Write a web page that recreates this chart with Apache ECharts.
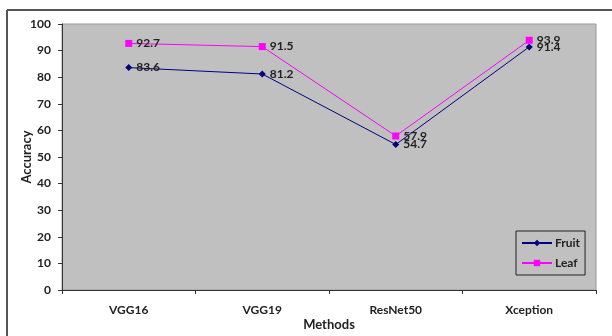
<!DOCTYPE html>
<html>
<head>
<meta charset="utf-8">
<script src="https://cdn.jsdelivr.net/npm/echarts@6/dist/echarts.min.js"></script>
<style>
  html, body { margin: 0; padding: 0; background: #ffffff; }
  #chart { width: 612px; height: 336px; }
</style>
</head>
<body>
<div id="chart"></div>
<script>
// Accuracy of each backbone network for fruit and leaf images
const methods = ['VGG16', 'VGG19', 'ResNet50', 'Xception'];
const fruitAcc = [83.6, 81.2, 54.7, 91.4];
const leafAcc = [92.7, 91.5, 57.9, 93.9];
const yTicks = { min: 0, max: 100, interval: 10 };

const labelFont = 'Lato, "Open Sans", sans-serif';

const chart = echarts.init(document.getElementById('chart'), null, { renderer: 'canvas' });

function seriesOf(name, data, color, symbol, size) {
  return {
    name: name,
    type: 'line',
    data: data,
    symbol: symbol,
    symbolSize: size,
    showAllSymbol: true,
    lineStyle: { color: color, width: 1 },
    itemStyle: { color: color },
    label: {
      show: true,
      position: 'right',
      distance: 4,
      color: '#222',
      fontFamily: labelFont,
      fontSize: 12,
      fontWeight: 'bold'
    },
    emphasis: { disabled: true },
    animation: false
  };
}

chart.setOption({
  animation: false,
  grid: {
    left: 62, top: 24, right: 16, bottom: 46,
    show: true,
    backgroundColor: '#c0c0c0',
    borderColor: '#9a9a9a',
    borderWidth: 1
  },
  graphic: [
    { type: 'line', shape: { x1: 7, y1: 10, x2: 612, y2: 10 }, style: { stroke: '#555', lineWidth: 2 }, silent: true },
    { type: 'line', shape: { x1: 7, y1: 10, x2: 7, y2: 336 }, style: { stroke: '#555', lineWidth: 2 }, silent: true }
  ],
  legend: {
    orient: 'vertical',
    left: 516,
    top: 231,
    padding: [6, 5, 6, 5],
    itemGap: 8,
    itemWidth: 30,
    itemHeight: 8,
    borderColor: '#222',
    borderWidth: 1,
    backgroundColor: '#c0c0c0',
    textStyle: { fontFamily: labelFont, fontSize: 12, fontWeight: 'bold', color: '#222', padding: [0, 0, 0, -2] },
    data: ['Fruit', 'Leaf']
  },
  xAxis: {
    type: 'category',
    data: methods,
    boundaryGap: true,
    name: 'Methods',
    nameLocation: 'middle',
    nameGap: 28,
    nameMoveOverlap: false,
    nameTextStyle: { fontFamily: labelFont, fontSize: 13, fontWeight: 'bold', color: '#222' },
    axisLine: { lineStyle: { color: '#333', width: 1 } },
    axisTick: { show: true, length: 4, inside: false, alignWithLabel: false, lineStyle: { color: '#333' } },
    axisLabel: { margin: 14, fontFamily: labelFont, fontSize: 12, fontWeight: 'bold', color: '#222' },
    splitLine: { show: false }
  },
  yAxis: {
    type: 'value',
    min: yTicks.min,
    max: yTicks.max,
    interval: yTicks.interval,
    name: 'Accuracy',
    nameLocation: 'middle',
    nameGap: 29,
    nameMoveOverlap: false,
    nameTextStyle: { fontFamily: labelFont, fontSize: 13, fontWeight: 'bold', color: '#222' },
    axisLine: { show: true, lineStyle: { color: '#333', width: 1 } },
    axisTick: { show: true, length: 4, lineStyle: { color: '#333' } },
    axisLabel: { margin: 11, fontFamily: labelFont, fontSize: 12, fontWeight: 'bold', color: '#222' },
    splitLine: { show: false }
  },
  series: [
    seriesOf('Fruit', fruitAcc, '#000080', 'diamond', 7),
    seriesOf('Leaf', leafAcc, '#ff00ff', 'rect', 7)
  ]
});
</script>
</body>
</html>
